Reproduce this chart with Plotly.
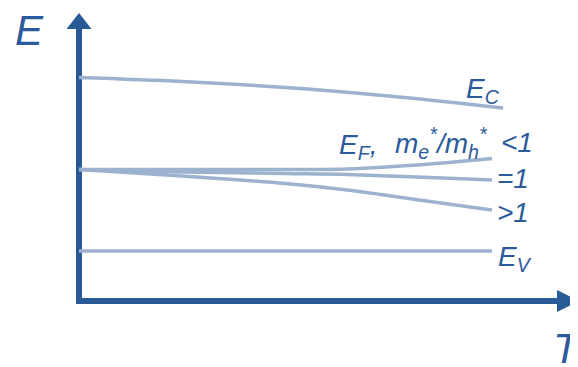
import plotly.graph_objects as go

# ---------------- data ----------------
T_grid = [0, 2.5, 5, 6.5, 8.5, 10]
E_F_lt1 = [2.63, 2.63, 2.63, 2.64, 2.74, 2.85]   # m_e*/m_h* < 1
E_F_eq1 = [2.63, 2.58, 2.55, 2.53, 2.47, 2.42]   # = 1
E_F_gt1 = [2.63, 2.50, 2.35, 2.22, 1.99, 1.82]   # > 1
T_c = [0, 2.5, 5, 7.5, 10.27]
E_C = [4.47, 4.39, 4.27, 4.10, 3.86]
T_v = [0, 10]
E_V = [1.0, 1.0]

# ---------------- layout helpers ----------------
PAGE_OFFSET = 8                 # default body margin of the html page
W, H = 578 - PAGE_OFFSET, 367 - PAGE_OFFSET
OX, OY = 79, 301                # window-pixel position of origin
PX_T, PX_E = 41.3, 50.0         # pixels per unit


def tx(px):
    return (px - OX) / PX_T


def ey(py):
    return (OY - py) / PX_E


AXIS = "#285a96"
CURVE = "#9db2cf"
TEXT = "#2c5b9b"
FONT = "Liberation Sans, Arial, sans-serif"

fig = go.Figure()
for xs, ys in [(T_c, E_C), (T_grid, E_F_lt1), (T_grid, E_F_eq1),
               (T_grid, E_F_gt1), (T_v, E_V)]:
    fig.add_trace(go.Scatter(x=xs, y=ys, mode="lines",
                             line=dict(color=CURVE, width=3.5, shape="spline"),
                             hoverinfo="skip", showlegend=False))

shapes = [
    # vertical axis
    dict(type="line", x0=tx(79), x1=tx(79), y0=ey(304), y1=ey(28),
         line=dict(color=AXIS, width=6), layer="below"),
    # horizontal axis
    dict(type="line", x0=tx(76), x1=tx(560), y0=ey(301), y1=ey(301),
         line=dict(color=AXIS, width=6), layer="below"),
    # arrowheads
    dict(type="path",
         path=f"M {tx(79)},{ey(13)} L {tx(66.5)},{ey(29)} L {tx(91.5)},{ey(29)} Z",
         fillcolor=AXIS, line=dict(width=0), layer="below"),
    dict(type="path",
         path=f"M {tx(579)},{ey(301)} L {tx(557)},{ey(290)} L {tx(557)},{ey(312)} Z",
         fillcolor=AXIS, line=dict(width=0), layer="below"),
]


def label(text, px, py, size=28, anchor="left"):
    return dict(text=f"<i>{text}</i>", x=tx(px), y=ey(py), xref="x", yref="y",
                xanchor=anchor, yanchor="middle", showarrow=False,
                font=dict(family=FONT, size=size, color=TEXT))


annotations = [
    label("E", 29, 30, size=42, anchor="center"),
    label("T", 551, 348, size=42),
    label("E<sub>C</sub>", 464, 90),
    label("E<sub>F</sub>,", 337, 146),
    label("m<sub>e</sub><sup>*</sup>/m<sub>h</sub><sup>*</sup>", 393, 143),
    label("&lt;1", 535, 142, anchor="right"),
    label("=1", 495, 178),
    label("&gt;1", 495, 212),
    label("E<sub>V</sub>", 496, 258),
]

fig.update_layout(
    width=W, height=H, margin=dict(l=0, r=0, t=0, b=0, pad=0),
    paper_bgcolor="white", plot_bgcolor="white",
    xaxis=dict(range=[tx(PAGE_OFFSET), tx(578)], visible=False, fixedrange=True),
    yaxis=dict(range=[ey(367), ey(PAGE_OFFSET)], visible=False, fixedrange=True),
    shapes=shapes, annotations=annotations, showlegend=False,
)

fig.write_html("out.html", config={"displayModeBar": False})
